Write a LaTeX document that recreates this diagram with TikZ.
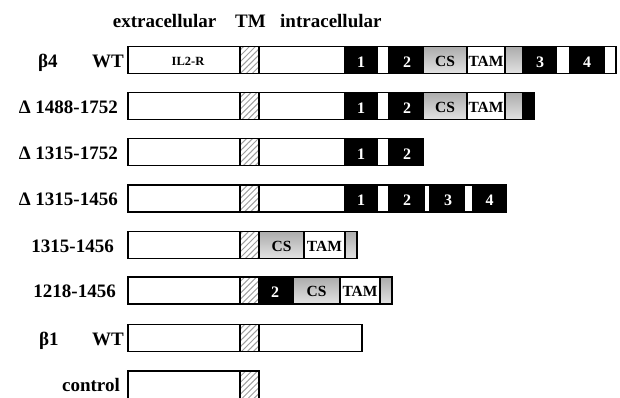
\documentclass[tikz,border=0pt]{standalone}
\usepackage{fontspec}
\setmainfont{Liberation Serif}
\usetikzlibrary{patterns,patterns.meta}
\tikzset{
  bar/.style={draw=black, line width=1.2pt},
  wseg/.style={bar, fill=white},
  bseg/.style={bar, fill=black},
  hseg/.style={bar, pattern={Lines[angle=45,distance=4.2pt,line width=1pt]}, pattern color=gray!75},
  gseg/.style={bar, top color=gray!65, bottom color=gray!22},
  lbl/.style={font=\bfseries\fontsize{19}{19}\selectfont, inner sep=0pt},
  num/.style={font=\bfseries\fontsize{16}{16}\selectfont, text=white, inner sep=0pt, anchor=base},
  dom/.style={font=\bfseries\fontsize{15.5}{15.5}\selectfont, inner sep=0pt, anchor=base},
  sdom/.style={font=\bfseries\fontsize{12.5}{12.5}\selectfont, inner sep=0pt, anchor=base},
}
\begin{document}
\begin{tikzpicture}[x=1pt,y=-1pt]
\useasboundingbox (0,0) rectangle (620,397);
\fill[white] (0,0) rectangle (620,397);
% header
\node[lbl, anchor=base west] (hext) at (112.7,27) {extracellular};
\node[lbl, anchor=base west] (htm) at (235,27) {TM};
\node[lbl, anchor=base west] (hint) at (280,27) {intracellular};

% row 1: beta4 WT
\begin{scope}[shift={(0,46.7)}]
\draw[wseg] (128,0) rectangle (240,27);
\draw[hseg] (240,0) rectangle (259,27);
\draw[wseg] (259,0) rectangle (345,27);
\draw[bseg] (345,0) rectangle (377,27);
\draw[wseg] (377,0) rectangle (389,27);
\draw[bseg] (389,0) rectangle (423,27);
\draw[gseg] (423,0) rectangle (467,27);
\draw[wseg] (467,0) rectangle (505,27);
\draw[gseg] (505,0) rectangle (523,27);
\draw[bseg] (523,0) rectangle (556,27);
\draw[wseg] (556,0) rectangle (570,27);
\draw[bseg] (570,0) rectangle (604,27);
\draw[wseg] (604,0) rectangle (616,27);
\draw[bar] (128,0) rectangle (616,27);
\node[sdom, anchor=base] (r1il) at (188,18.5) {IL2-R};
\node[num] (r1n1) at (361,20.5) {1};
\node[num] (r1n2) at (407,20.5) {2};
\node[dom] (r1cs) at (445,19.5) {CS};
\node[dom] (r1tam) at (486,19.5) {TAM};
\node[num] (r1n3) at (540,20.5) {3};
\node[num] (r1n4) at (587,20.5) {4};
\node[lbl, anchor=base west] (l1a) at (38,20.5) {β4};
\node[lbl, anchor=base east] (l1b) at (124,20.5) {WT};
\end{scope}

% row 2: Delta 1488-1752
\begin{scope}[shift={(0,92.7)}]
\draw[wseg] (128,0) rectangle (240,27);
\draw[hseg] (240,0) rectangle (259,27);
\draw[wseg] (259,0) rectangle (345,27);
\draw[bseg] (345,0) rectangle (377,27);
\draw[wseg] (377,0) rectangle (389,27);
\draw[bseg] (389,0) rectangle (423,27);
\draw[gseg] (423,0) rectangle (467,27);
\draw[wseg] (467,0) rectangle (505,27);
\draw[gseg] (505,0) rectangle (523,27);
\draw[bseg] (523,0) rectangle (534,27);
\draw[bar] (128,0) rectangle (534,27);
\node[num] (r2n1) at (361,20.5) {1};
\node[num] (r2n2) at (407,20.5) {2};
\node[dom] (r2cs) at (445,19.5) {CS};
\node[dom] (r2tam) at (486,19.5) {TAM};
\node[lbl, anchor=base east] (l2) at (118,20.5) {Δ 1488-1752};
\end{scope}

% row 3: Delta 1315-1752
\begin{scope}[shift={(0,138.5)}]
\draw[wseg] (128,0) rectangle (240,27);
\draw[hseg] (240,0) rectangle (259,27);
\draw[wseg] (259,0) rectangle (345,27);
\draw[bseg] (345,0) rectangle (377,27);
\draw[wseg] (377,0) rectangle (389,27);
\draw[bseg] (389,0) rectangle (423,27);
\draw[bar] (128,0) rectangle (423,27);
\node[num] (r3n1) at (361,20.5) {1};
\node[num] (r3n2) at (407,20.5) {2};
\node[lbl, anchor=base east] (l3) at (118,20.5) {Δ 1315-1752};
\end{scope}

% row 4: Delta 1315-1456
\begin{scope}[shift={(0,185)}]
\draw[wseg] (128,0) rectangle (240,27);
\draw[hseg] (240,0) rectangle (259,27);
\draw[wseg] (259,0) rectangle (345,27);
\draw[bseg] (345,0) rectangle (377,27);
\draw[wseg] (377,0) rectangle (389,27);
\draw[bseg] (389,0) rectangle (424,27);
\draw[wseg] (424,0) rectangle (430,27);
\draw[bseg] (430,0) rectangle (464.5,27);
\draw[wseg] (464.5,0) rectangle (473,27);
\draw[bseg] (473,0) rectangle (506,27);
\draw[bar] (128,0) rectangle (506,27);
\node[num] (r4n1) at (361,20.5) {1};
\node[num] (r4n2) at (407,20.5) {2};
\node[num] (r4n3) at (448,20.5) {3};
\node[num] (r4n4) at (489.5,20.5) {4};
\node[lbl, anchor=base east] (l4) at (118,20.5) {Δ 1315-1456};
\end{scope}

% row 5: 1315-1456
\begin{scope}[shift={(0,231.5)}]
\draw[wseg] (128,0) rectangle (240,27);
\draw[hseg] (240,0) rectangle (259,27);
\draw[gseg] (259,0) rectangle (304,27);
\draw[wseg] (304,0) rectangle (345,27);
\draw[gseg] (345,0) rectangle (357,27);
\draw[bar] (128,0) rectangle (357,27);
\node[dom] (r5cs) at (281.5,19.5) {CS};
\node[dom] (r5tam) at (324.5,19.5) {TAM};
\node[lbl, anchor=base east] (l5) at (114,20.5) {1315-1456};
\end{scope}

% row 6: 1218-1456
\begin{scope}[shift={(0,277)}]
\draw[wseg] (128,0) rectangle (240,27);
\draw[hseg] (240,0) rectangle (259,27);
\draw[bseg] (259,0) rectangle (293,27);
\draw[gseg] (293,0) rectangle (340,27);
\draw[wseg] (340,0) rectangle (380,27);
\draw[gseg] (380,0) rectangle (392,27);
\draw[bar] (128,0) rectangle (392,27);
\node[num] (r6n2) at (275,20.5) {2};
\node[dom] (r6cs) at (316.5,19.5) {CS};
\node[dom] (r6tam) at (360,19.5) {TAM};
\node[lbl, anchor=base east] (l6) at (116,20.5) {1218-1456};
\end{scope}

% row 7: beta1 WT
\begin{scope}[shift={(0,324.5)}]
\draw[wseg] (128,0) rectangle (240,27);
\draw[hseg] (240,0) rectangle (259,27);
\draw[wseg] (259,0) rectangle (362,27);
\draw[bar] (128,0) rectangle (362,27);
\node[lbl, anchor=base west] (l7a) at (39,20.5) {β1};
\node[lbl, anchor=base east] (l7b) at (124,20.5) {WT};
\end{scope}

% row 8: control
\begin{scope}[shift={(0,371)}]
\draw[wseg] (128,0) rectangle (240,28);
\draw[hseg] (240,0) rectangle (259,28);
\draw[bar] (128,0) rectangle (259,28);
\node[lbl, anchor=base east] (l8) at (120,20.5) {control};
\end{scope}
\end{tikzpicture}
\end{document}
